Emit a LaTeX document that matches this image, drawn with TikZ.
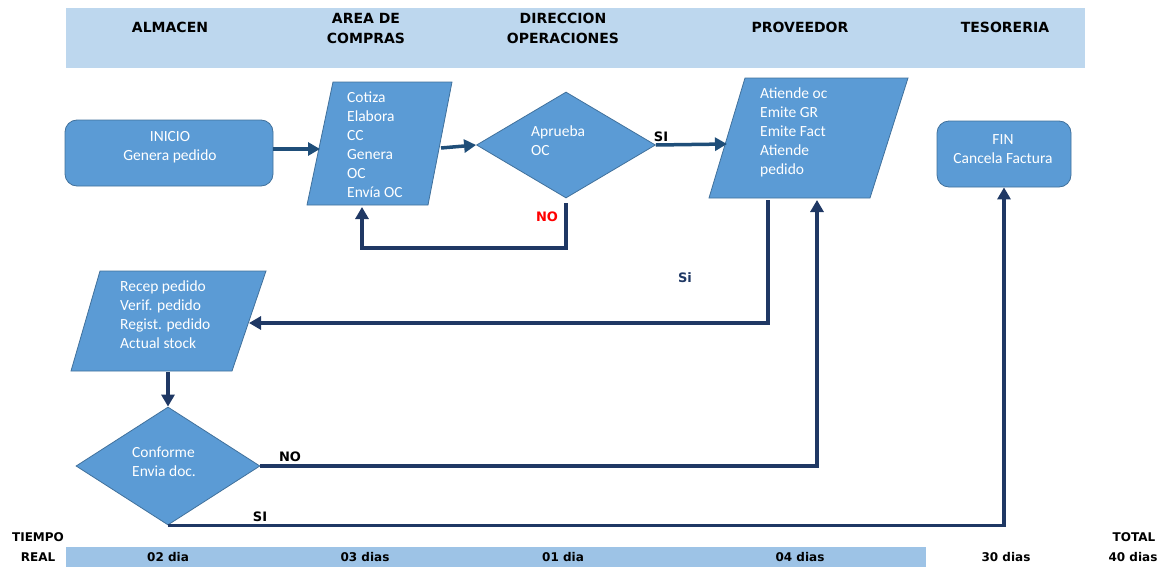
\documentclass[tikz,border=0pt]{standalone}
\usepackage{fontspec}
\setmainfont{Carlito}
\newfontfamily\hdfont{DejaVu Sans}
\usetikzlibrary{arrows.meta,shapes.geometric}

\definecolor{hdrband}{HTML}{BDD7EE}
\definecolor{timeband}{HTML}{9DC3E6}
\definecolor{boxfill}{HTML}{5B9BD5}
\definecolor{boxedge}{HTML}{41719C}
\definecolor{flowdark}{HTML}{1F3864}
\definecolor{flowblue}{HTML}{1F4E79}

\begin{document}
\begin{tikzpicture}[x=1pt,y=-1pt,
  lanehead/.style={font=\hdfont\bfseries\fontsize{14}{20}\selectfont, align=center, inner sep=0pt},
  timetext/.style={font=\hdfont\bfseries\fontsize{12}{20}\selectfont, inner sep=0pt},
  flowlabel/.style={font=\hdfont\bfseries\fontsize{13}{15}\selectfont, inner sep=0pt},
  shapefill/.style={fill=boxfill, draw=boxedge, line width=0.8pt},
  body/.style={text=white, font=\fontsize{15.5}{19}\selectfont, align=left, inner sep=0pt},
  bodyc/.style={body, align=center},
  terminal/.style={shapefill, rounded corners=12pt, inner sep=0pt},
  decision/.style={diamond, shapefill, inner sep=0pt},
  conn/.style={draw=flowdark, line width=3.5pt, -{Triangle[length=12pt,width=13pt]}},
  connblue/.style={conn, draw=flowblue}
]
\useasboundingbox (0,0) rectangle (1163,570);

% swimlane headers
\fill[hdrband] (66,8) rectangle (1085,68);
\node[lanehead] (h-alm)  at (170,27) {ALMACEN};
\node[lanehead] (h-comp) at (366,28) {AREA DE\\COMPRAS};
\node[lanehead] (h-dir)  at (563,28) {DIRECCION\\OPERACIONES};
\node[lanehead] (h-prov) at (800,27) {PROVEEDOR};
\node[lanehead] (h-tes)  at (1005,27) {TESORERIA};

% start
\node[terminal, minimum width=208, minimum height=66] (inicio) at (169,153) {};
\node[bodyc] (inicio-t) at (170,147.5) {INICIO\\Genera pedido};

% purchasing: quotation and purchase order
\coordinate (cot-tl) at (333,82);
\coordinate (cot-tr) at (452,82);
\coordinate (cot-br) at (428,205);
\coordinate (cot-bl) at (307,205);
\path[shapefill] (cot-tl) -- (cot-tr) -- (cot-br) -- (cot-bl) -- cycle;
\node[body, anchor=west] (cotiza) at (347,144.5)
  {Cotiza\\Elabora\\CC\\Genera\\OC\\Envía OC};
\coordinate (cot-in)  at (320,149);
\coordinate (cot-out) at (441,148);
\coordinate (cot-bot) at (362,207);

% approval
\node[decision, minimum width=179, minimum height=106] (aprueba) at (566,145) {};
\node[body, anchor=west] (aprueba-t) at (531,141) {Aprueba\\OC};
\coordinate (apr-out) at (566,203);

% supplier
\coordinate (prov-tl) at (745,78);
\coordinate (prov-tr) at (908,78);
\coordinate (prov-br) at (870,198);
\coordinate (prov-bl) at (709,198);
\path[shapefill] (prov-tl) -- (prov-tr) -- (prov-br) -- (prov-bl) -- cycle;
\node[body, anchor=west] (proveedor) at (760,132)
  {Atiende oc\\Emite GR\\Emite Fact\\Atiende\\pedido};
\coordinate (prov-in)   at (727,144);
\coordinate (prov-out)  at (768,200);
\coordinate (prov-back) at (817,200);

% treasury: end
\node[terminal, minimum width=134, minimum height=66] (fin) at (1004,154) {};
\node[bodyc] (fin-t) at (1003,149) {FIN\\Cancela Factura};

% warehouse: reception
\coordinate (rec-tl) at (100,271);
\coordinate (rec-tr) at (266,271);
\coordinate (rec-br) at (232,371);
\coordinate (rec-bl) at (71,371);
\path[shapefill] (rec-tl) -- (rec-tr) -- (rec-br) -- (rec-bl) -- cycle;
\node[body, anchor=west] (recepcion) at (120,314.5)
  {Recep pedido\\Verif. pedido\\Regist. pedido\\Actual stock};
\coordinate (rec-in)  at (249,323);
\coordinate (rec-out) at (168,372);

% conformity check
\node[decision, minimum width=184, minimum height=118] (conforme) at (168,466) {};
\node[body, anchor=west] (conforme-t) at (132,461.5) {Conforme\\Envia doc.};

% connectors
\draw[connblue] (inicio.east |- cot-in) -- (cot-in);
\draw[connblue] (cot-out) -- (aprueba.west);
\draw[connblue] (aprueba.east) -- (prov-in);
\draw[conn] (apr-out) -- ++(0,45) -| (cot-bot);
\draw[conn] (prov-out) |- (rec-in);
\draw[conn] (rec-out) -- (conforme.north);
\draw[conn] (conforme.east) -| (prov-back);
\draw[conn] (conforme.south) -| (fin.south);

% connector labels
\node[flowlabel] (l-si1) at (661,137) {SI};
\node[flowlabel, text=red] (l-no1) at (547,217) {NO};
\node[flowlabel, text=flowdark] (l-si2) at (685,278) {Si};
\node[flowlabel] (l-no2) at (290,457) {NO};
\node[flowlabel] (l-si3) at (260,517) {SI};

% time row
\fill[timeband] (66,547) rectangle (926,567);
\node[timetext] (t-tiempo) at (38,537) {TIEMPO};
\node[timetext] (t-real)   at (38,557) {REAL};
\node[timetext] (t-alm)    at (168,557) {02 dia};
\node[timetext] (t-comp)   at (365,557) {03 dias};
\node[timetext] (t-dir)    at (563,557) {01 dia};
\node[timetext] (t-prov)   at (800,557) {04 dias};
\node[timetext] (t-tes)    at (1006,557) {30 dias};
\node[timetext] (t-totl)   at (1134,537) {TOTAL};
\node[timetext] (t-tot)    at (1133,557) {40 dias};
\end{tikzpicture}
\end{document}
